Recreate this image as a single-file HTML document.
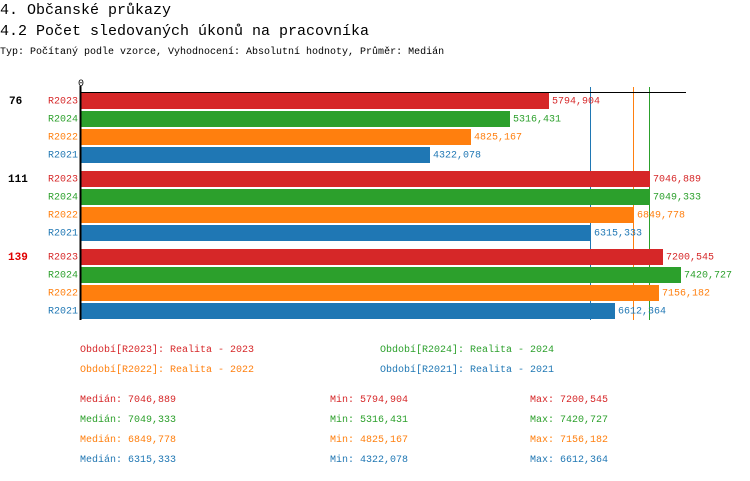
<!DOCTYPE html>
<html><head><meta charset="utf-8"><style>
body{margin:0;background:#fff;width:750px;height:476px;overflow:hidden}
svg text{font-family:"Liberation Mono","DejaVu Sans Mono",monospace}
</style></head><body>
<svg width="750" height="476" xmlns="http://www.w3.org/2000/svg">
<text x="0" y="14" font-size="15" fill="#000">4. Občanské průkazy</text>
<text x="0" y="35" font-size="15" fill="#000">4.2 Počet sledovaných úkonů na pracovníka</text>
<text x="0" y="54" font-size="10" fill="#000">Typ: Počítaný podle vzorce, Vyhodnocení: Absolutní hodnoty, Průměr: Medián</text>
<text x="78" y="86" font-size="10">0</text>
<line x1="590.5" y1="87" x2="590.5" y2="320" stroke="#1f77b4"/>
<line x1="633.5" y1="87" x2="633.5" y2="320" stroke="#ff7f0e"/>
<line x1="649.5" y1="87" x2="649.5" y2="320" stroke="#2ca02c"/>
<g font-size="10" dominant-baseline="middle">
<text x="9" y="101" font-weight="bold" font-size="11">76</text>
<rect x="81" y="93" width="468" height="16" fill="#d62728"/><text x="78" y="101" text-anchor="end" fill="#d62728">R2023</text><text x="552" y="101" fill="#d62728">5794,904</text>
<rect x="81" y="111" width="429" height="16" fill="#2ca02c"/><text x="78" y="119" text-anchor="end" fill="#2ca02c">R2024</text><text x="513" y="119" fill="#2ca02c">5316,431</text>
<rect x="81" y="129" width="390" height="16" fill="#ff7f0e"/><text x="78" y="137" text-anchor="end" fill="#ff7f0e">R2022</text><text x="474" y="137" fill="#ff7f0e">4825,167</text>
<rect x="81" y="147" width="349" height="16" fill="#1f77b4"/><text x="78" y="155" text-anchor="end" fill="#1f77b4">R2021</text><text x="433" y="155" fill="#1f77b4">4322,078</text>
<text x="8" y="179" font-weight="bold" font-size="11">111</text>
<rect x="81" y="171" width="569" height="16" fill="#d62728"/><text x="78" y="179" text-anchor="end" fill="#d62728">R2023</text><text x="653" y="179" fill="#d62728">7046,889</text>
<rect x="81" y="189" width="569" height="16" fill="#2ca02c"/><text x="78" y="197" text-anchor="end" fill="#2ca02c">R2024</text><text x="653" y="197" fill="#2ca02c">7049,333</text>
<rect x="81" y="207" width="553" height="16" fill="#ff7f0e"/><text x="78" y="215" text-anchor="end" fill="#ff7f0e">R2022</text><text x="637" y="215" fill="#ff7f0e">6849,778</text>
<rect x="81" y="225" width="510" height="16" fill="#1f77b4"/><text x="78" y="233" text-anchor="end" fill="#1f77b4">R2021</text><text x="594" y="233" fill="#1f77b4">6315,333</text>
<text x="8" y="257" font-weight="bold" font-size="11" fill="#e00000">139</text>
<rect x="81" y="249" width="582" height="16" fill="#d62728"/><text x="78" y="257" text-anchor="end" fill="#d62728">R2023</text><text x="666" y="257" fill="#d62728">7200,545</text>
<rect x="81" y="267" width="600" height="16" fill="#2ca02c"/><text x="78" y="275" text-anchor="end" fill="#2ca02c">R2024</text><text x="684" y="275" fill="#2ca02c">7420,727</text>
<rect x="81" y="285" width="578" height="16" fill="#ff7f0e"/><text x="78" y="293" text-anchor="end" fill="#ff7f0e">R2022</text><text x="662" y="293" fill="#ff7f0e">7156,182</text>
<rect x="81" y="303" width="534" height="16" fill="#1f77b4"/><text x="78" y="311" text-anchor="end" fill="#1f77b4">R2021</text><text x="618" y="311" fill="#1f77b4">6612,364</text>
</g>
<line x1="80" y1="92.5" x2="686" y2="92.5" stroke="#000"/>
<line x1="80.5" y1="86" x2="80.5" y2="320" stroke="#000" stroke-width="2"/>
<g font-size="10">
<text x="80" y="352" fill="#d62728">Období[R2023]: Realita - 2023</text>
<text x="380" y="352" fill="#2ca02c">Období[R2024]: Realita - 2024</text>
<text x="80" y="372" fill="#ff7f0e">Období[R2022]: Realita - 2022</text>
<text x="380" y="372" fill="#1f77b4">Období[R2021]: Realita - 2021</text>
<text x="80" y="402" fill="#d62728">Medián: 7046,889</text><text x="330" y="402" fill="#d62728">Min: 5794,904</text><text x="530" y="402" fill="#d62728">Max: 7200,545</text>
<text x="80" y="422" fill="#2ca02c">Medián: 7049,333</text><text x="330" y="422" fill="#2ca02c">Min: 5316,431</text><text x="530" y="422" fill="#2ca02c">Max: 7420,727</text>
<text x="80" y="442" fill="#ff7f0e">Medián: 6849,778</text><text x="330" y="442" fill="#ff7f0e">Min: 4825,167</text><text x="530" y="442" fill="#ff7f0e">Max: 7156,182</text>
<text x="80" y="462" fill="#1f77b4">Medián: 6315,333</text><text x="330" y="462" fill="#1f77b4">Min: 4322,078</text><text x="530" y="462" fill="#1f77b4">Max: 6612,364</text>
</g>
</svg>
</body></html>
